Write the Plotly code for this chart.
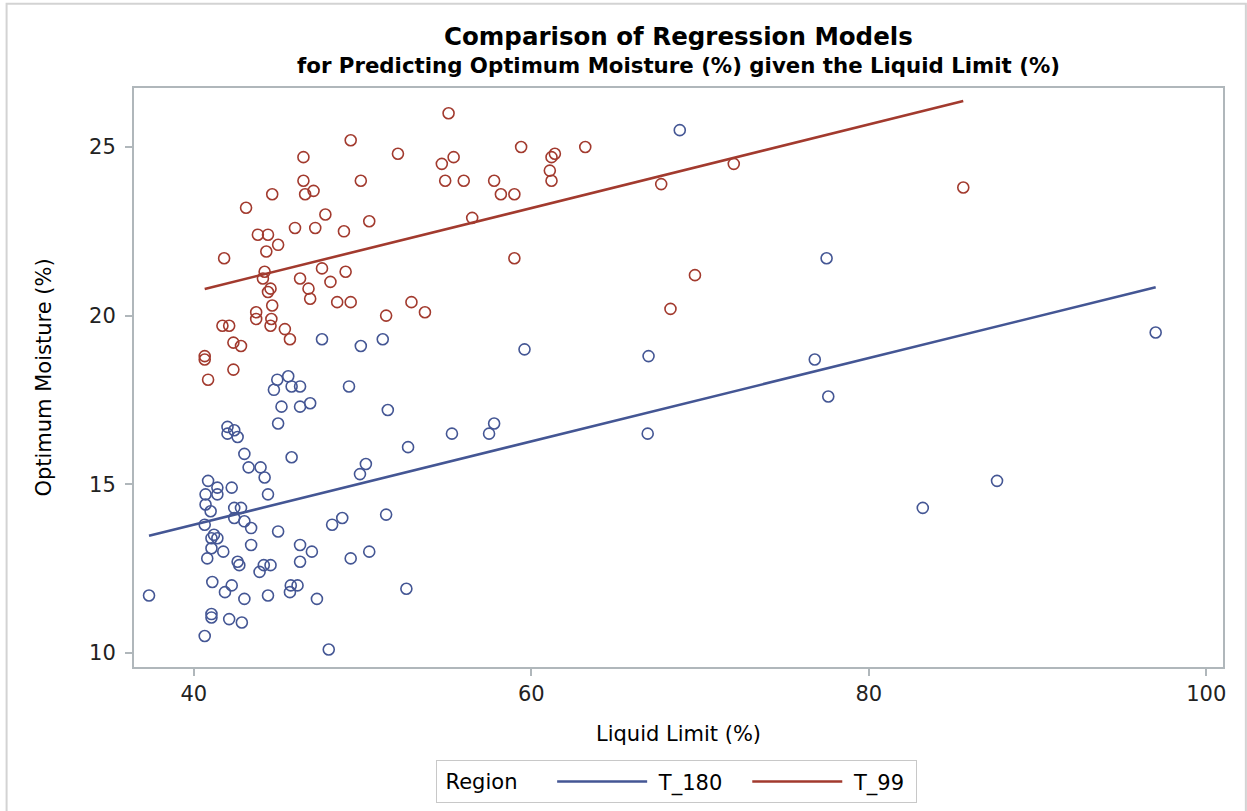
import numpy as np
import plotly.graph_objects as go

# ---- data ----
red_x = [49.3, 52.1, 46.5, 46.5, 49.9, 44.65, 46.6, 47.1, 43.1, 47.8,
         46.0, 47.2, 48.9, 50.4, 43.8, 44.4, 45.0, 44.3, 41.8, 44.2,
         44.1, 46.3, 47.6, 49.0, 48.1, 44.55, 46.8, 44.4, 46.9, 48.5,
         49.3, 52.9, 53.7, 51.4, 44.65, 43.7, 43.7, 44.6, 44.55, 41.7,
         42.1, 45.4, 45.7, 42.35, 42.8, 40.65, 40.65, 42.35, 40.85,
         55.1, 55.4, 54.7, 59.4, 61.4, 61.2, 63.2, 54.9, 56.0, 57.8,
         61.1, 61.2, 58.2, 59.0, 67.7, 56.5, 59.0, 69.7, 68.25, 72.0, 85.6]
red_y = [25.2, 24.8, 24.7, 24.0, 24.0, 23.6, 23.6, 23.7, 23.2, 23.0,
         22.6, 22.6, 22.5, 22.8, 22.4, 22.4, 22.1, 21.9, 21.7, 21.3,
         21.1, 21.1, 21.4, 21.3, 21.0, 20.8, 20.8, 20.7, 20.5, 20.4,
         20.4, 20.4, 20.1, 20.0, 20.3, 20.1, 19.9, 19.9, 19.7, 19.7,
         19.7, 19.6, 19.3, 19.2, 19.1, 18.8, 18.7, 18.4, 18.1,
         26.0, 24.7, 24.5, 25.0, 24.8, 24.7, 25.0, 24.0, 24.0, 24.0,
         24.3, 24.0, 23.6, 23.6, 23.9, 22.9, 21.7, 21.2, 20.2, 24.5, 23.8]

blue_x = [47.6, 49.9, 51.2, 44.95, 45.6, 44.75, 45.8, 46.3, 49.2, 45.2,
          46.3, 46.9, 51.5, 45.0, 42.0, 42.4, 42.0, 42.6, 52.7, 43.0,
          45.8, 43.25, 43.96, 50.2, 49.85, 40.85, 44.2, 41.4, 42.25, 40.7,
          41.4, 44.4, 40.7, 41.0, 42.4, 42.8, 42.4, 43.0, 40.65, 43.4,
          45.0, 48.2, 48.8, 51.4, 41.2, 41.05, 41.4, 43.4, 46.3, 47.0,
          41.05, 41.75, 50.4, 40.8, 49.3, 42.6, 42.7, 44.15, 44.55, 43.9,
          46.3, 41.1, 42.25, 41.85, 45.75, 46.15, 45.7, 43.0, 44.4, 47.3,
          52.6, 37.35, 41.05, 41.05, 42.1, 42.85, 40.65, 48.0, 59.6, 66.95,
          55.3, 57.8, 57.5, 66.9, 68.8, 77.5, 76.8, 77.6, 87.6, 83.2, 97.0]
blue_y = [19.3, 19.1, 19.3, 18.1, 18.2, 17.8, 17.9, 17.9, 17.9, 17.3,
          17.3, 17.4, 17.2, 16.8, 16.7, 16.6, 16.5, 16.4, 16.1, 15.9,
          15.8, 15.5, 15.5, 15.6, 15.3, 15.1, 15.2, 14.9, 14.9, 14.7,
          14.7, 14.7, 14.4, 14.2, 14.3, 14.3, 14.0, 13.9, 13.8, 13.7,
          13.6, 13.8, 14.0, 14.1, 13.5, 13.4, 13.4, 13.2, 13.2, 13.0,
          13.1, 13.0, 13.0, 12.8, 12.8, 12.7, 12.6, 12.6, 12.6, 12.4,
          12.7, 12.1, 12.0, 11.8, 12.0, 12.0, 11.8, 11.6, 11.7, 11.6,
          11.9, 11.7, 11.15, 11.05, 11.0, 10.9, 10.5, 10.1, 19.0, 18.8,
          16.5, 16.8, 16.5, 16.5, 25.5, 21.7, 18.7, 17.6, 15.1, 14.3, 19.5]

# fitted model coefficients (intercept, slope)
fit_180 = (8.86, 0.1235)
fit_99 = (15.75, 0.1240)

series_names = ["T_180", "T_99"]
x_ticks = [40, 60, 80, 100]
y_ticks = [10, 15, 20, 25]

BLUE = "#445694"
RED = "#A23A2E"
FONT = "DejaVu Sans"
NB = "\u00a0"


def fit_line(xs, coef):
    xx = np.array([min(xs), max(xs)])
    return xx, coef[0] + coef[1] * xx


fig = go.Figure()

fig.add_trace(go.Scatter(x=blue_x, y=blue_y, mode="markers", showlegend=False,
                         marker=dict(symbol="circle-open", size=11, color=BLUE,
                                     line=dict(width=1.6, color=BLUE))))
fig.add_trace(go.Scatter(x=red_x, y=red_y, mode="markers", showlegend=False,
                         marker=dict(symbol="circle-open", size=11, color=RED,
                                     line=dict(width=1.6, color=RED))))

bx, by = fit_line(blue_x, fit_180)
rx, ry = fit_line(red_x, fit_99)
fig.add_trace(go.Scatter(x=bx, y=by, mode="lines",
                         name=NB + series_names[0] + NB * 3,
                         line=dict(color=BLUE, width=2.6)))
fig.add_trace(go.Scatter(x=rx, y=ry, mode="lines",
                         name=NB + series_names[1] + NB,
                         line=dict(color=RED, width=2.6)))

axis_common = dict(showline=True, mirror=True, linecolor="#b0b7bb", linewidth=2,
                   ticks="outside", ticklen=7, tickwidth=1.5, tickcolor="#b0b7bb",
                   showgrid=False, zeroline=False,
                   tickfont=dict(family=FONT, size=21, color="#222"))

fig.update_xaxes(range=[36.46, 100.99], tickvals=x_ticks, ticklabelstandoff=0,
                 title=dict(text="Liquid Limit (%)", standoff=21,
                            font=dict(family=FONT, size=21, color="#000")),
                 **axis_common)
fig.update_yaxes(range=[9.58, 26.75], tickvals=y_ticks, ticklabelstandoff=5,
                 title=dict(text="Optimum Moisture (%)", standoff=32,
                            font=dict(family=FONT, size=21, color="#000")),
                 **axis_common)

fig.update_layout(
    width=1247, height=811,
    margin=dict(l=134, r=24, t=88, b=144, autoexpand=False),
    paper_bgcolor="white", plot_bgcolor="white",
    font=dict(family=FONT, color="#000"),
    showlegend=True,
    legend=dict(orientation="h", x=0.2772, xanchor="left", y=-0.1613, yanchor="top",
                bordercolor="#c8c8c8", borderwidth=1, bgcolor="white",
                title=dict(text=NB + "Region    ", font=dict(family=FONT, size=21)),
                font=dict(family=FONT, size=21), itemwidth=90,
                traceorder="normal"),
    annotations=[
        dict(text="<b>Comparison of Regression Models</b>", x=0.5, y=1.0887,
             xref="paper", yref="paper", xanchor="center", yanchor="middle",
             showarrow=False, font=dict(family=FONT, size=24.5, color="#000")),
        dict(text="<b>for Predicting Optimum Moisture (%) given the Liquid Limit (%)</b>",
             x=0.5, y=1.0386, xref="paper", yref="paper", xanchor="center",
             yanchor="middle", showarrow=False,
             font=dict(family=FONT, size=21.3, color="#000")),
    ],
    shapes=[
        dict(type="rect", xref="paper", yref="paper", x0=-0.117, x1=1.021,
             y0=-0.32, y1=1.1457, line=dict(color="#d3d3d3", width=2),
             fillcolor="rgba(0,0,0,0)", layer="below"),
    ],
)

fig.write_html("out.html")
